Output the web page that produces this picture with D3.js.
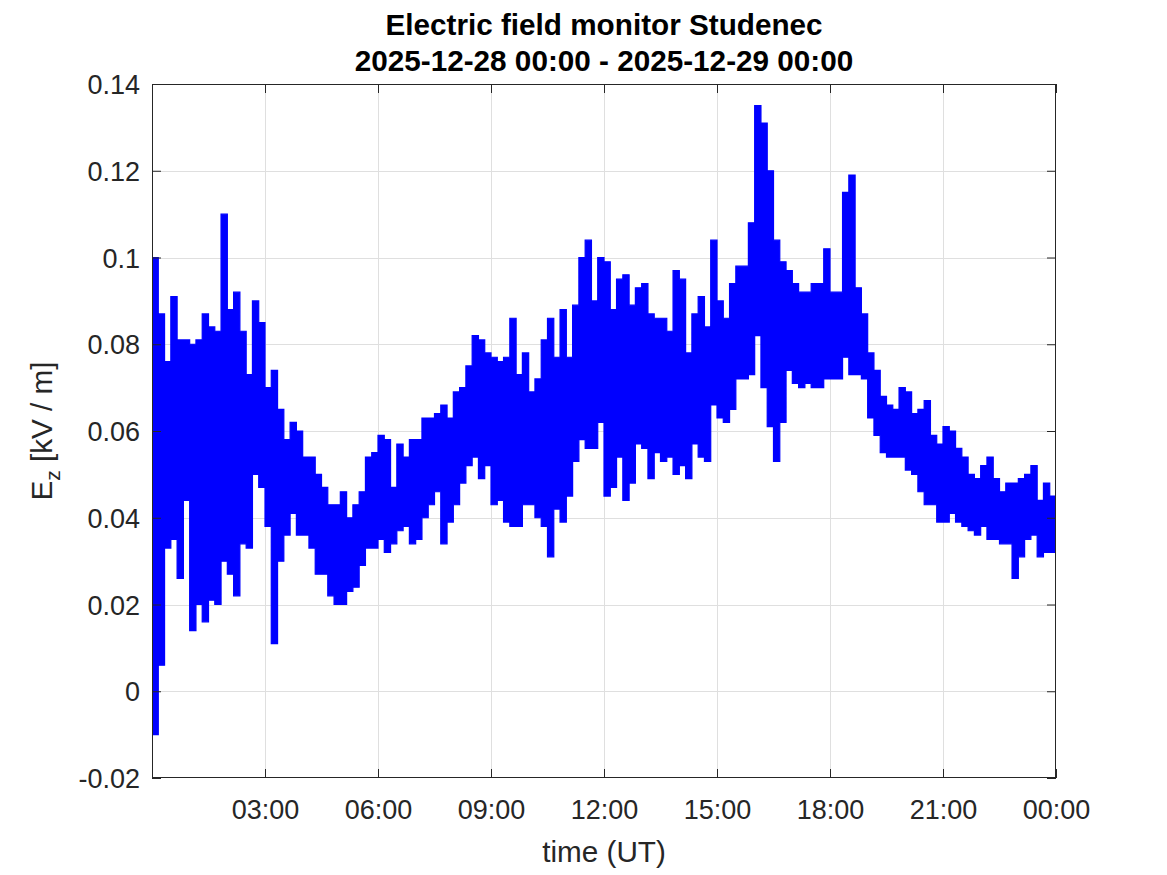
<!DOCTYPE html>
<html><head><meta charset="utf-8">
<script src="https://cdn.jsdelivr.net/npm/d3@7"></script>
<style>body{margin:0;background:#fff}</style>
</head><body>
<svg id="chart" width="1167" height="875"></svg>
<script>
// ---- data ----
const titleLines = ["Electric field monitor Studenec", "2025-12-28 00:00 - 2025-12-29 00:00"];
const xLabel = "time (UT)";
const binMinutes = 10; // each bin: lowest and highest Ez seen in that 10-minute span
const ezLow = [
 -0.010,0.006,0.033,0.035,0.026,0.044,0.014,0.020,0.016,0.021,0.020,0.030,
  0.027,0.022,0.034,0.033,0.050,0.047,0.038,0.011,0.030,0.036,0.041,0.036,
  0.036,0.033,0.027,0.027,0.022,0.020,0.020,0.023,0.024,0.029,0.033,0.033,
  0.035,0.032,0.034,0.037,0.038,0.034,0.035,0.040,0.043,0.046,0.034,0.039,
  0.043,0.048,0.052,0.054,0.049,0.052,0.043,0.044,0.039,0.038,0.038,0.043,
  0.043,0.040,0.038,0.031,0.042,0.039,0.045,0.053,0.058,0.056,0.056,0.062,
  0.045,0.047,0.054,0.044,0.048,0.057,0.056,0.049,0.055,0.053,0.054,0.050,
  0.052,0.049,0.057,0.054,0.053,0.066,0.063,0.062,0.065,0.072,0.072,0.073,
  0.082,0.070,0.061,0.053,0.062,0.074,0.071,0.070,0.071,0.070,0.070,0.072,
  0.072,0.072,0.077,0.073,0.073,0.072,0.063,0.059,0.055,0.054,0.054,0.054,
  0.051,0.050,0.046,0.043,0.043,0.039,0.039,0.041,0.039,0.038,0.037,0.036,
  0.038,0.035,0.035,0.034,0.034,0.026,0.031,0.035,0.036,0.031,0.032,0.032
];
const ezHigh = [
  0.100,0.087,0.076,0.091,0.081,0.081,0.080,0.081,0.087,0.084,0.083,0.110,
  0.088,0.092,0.083,0.073,0.090,0.085,0.070,0.074,0.065,0.058,0.062,0.060,
  0.054,0.054,0.050,0.047,0.043,0.043,0.046,0.040,0.043,0.046,0.054,0.055,
  0.059,0.058,0.047,0.057,0.054,0.058,0.058,0.063,0.063,0.064,0.066,0.063,
  0.069,0.070,0.075,0.082,0.081,0.078,0.077,0.076,0.077,0.086,0.073,0.078,
  0.069,0.072,0.081,0.086,0.077,0.088,0.077,0.089,0.100,0.104,0.090,0.100,
  0.099,0.088,0.095,0.096,0.089,0.093,0.094,0.087,0.086,0.086,0.083,0.097,
  0.095,0.078,0.087,0.091,0.084,0.104,0.090,0.086,0.094,0.098,0.098,0.108,
  0.135,0.131,0.120,0.104,0.099,0.097,0.094,0.092,0.092,0.094,0.094,0.102,
  0.092,0.092,0.115,0.119,0.093,0.087,0.078,0.074,0.068,0.066,0.065,0.070,
  0.069,0.064,0.065,0.067,0.059,0.057,0.061,0.060,0.056,0.054,0.050,0.049,
  0.052,0.054,0.049,0.046,0.048,0.048,0.049,0.050,0.052,0.044,0.048,0.045
];
const xTickHours = [3, 6, 9, 12, 15, 18, 21, 24];
const xTickLabels = ["03:00", "06:00", "09:00", "12:00", "15:00", "18:00", "21:00", "00:00"];
const yTickValues = [-0.02, 0, 0.02, 0.04, 0.06, 0.08, 0.1, 0.12, 0.14];
const yTickLabels = ["-0.02", "0", "0.02", "0.04", "0.06", "0.08", "0.1", "0.12", "0.14"];

// ---- layout ----
const W = 1167, H = 875;
const L = 152, R = 1056, T = 84, B = 778;
const axisColor = "#262626", gridColor = "#dfdfdf";
const font = "'Liberation Sans', Arial, Helvetica, sans-serif";
const tickLen = 9;

const svg = d3.select("#chart");
svg.append("rect").attr("width", W).attr("height", H).attr("fill", "#fff");

const x = d3.scaleLinear().domain([0, 24]).range([L, R]);
const y = d3.scaleLinear().domain([-0.02, 0.14]).range([B, T]);

// grid
const grid = svg.append("g");
grid.selectAll("line.gx").data(xTickHours.filter(h => h < 24)).join("line")
  .attr("x1", d => Math.round(x(d)) + 0.5).attr("x2", d => Math.round(x(d)) + 0.5)
  .attr("y1", T).attr("y2", B).attr("stroke", gridColor).attr("stroke-width", 1);
grid.selectAll("line.gy").data(yTickValues.slice(1, -1)).join("line")
  .attr("y1", d => Math.round(y(d)) + 0.5).attr("y2", d => Math.round(y(d)) + 0.5)
  .attr("x1", L).attr("x2", R).attr("stroke", gridColor).attr("stroke-width", 1);

// data: each 10-minute bin drawn as the band its trace sweeps (low..high)
const bins = ezLow.map((lo, i) => ({ t: i * binMinutes / 60, lo: lo, hi: ezHigh[i] }));
bins.push({ t: 24, lo: ezLow[ezLow.length - 1], hi: ezHigh[ezHigh.length - 1] }); // closes the last step
svg.append("clipPath").attr("id", "clip").append("rect")
  .attr("x", L).attr("y", T).attr("width", R - L).attr("height", B - T);
const plot = svg.append("g").attr("clip-path", "url(#clip)");
plot.append("path").datum(bins)
  .attr("d", d3.area().curve(d3.curveStepAfter).x(d => x(d.t)).y0(d => y(d.lo)).y1(d => y(d.hi)))
  .attr("fill", "#0000ff").attr("stroke", "#0000ff").attr("stroke-width", 1.2)
  .attr("stroke-linejoin", "miter");

// axes with inward ticks on all sides
const xAxisB = d3.axisBottom(x).tickValues(xTickHours).tickSizeInner(-tickLen).tickSizeOuter(0)
  .tickFormat((d, i) => xTickLabels[i]);
const gxb = svg.append("g").attr("transform", `translate(0,${B})`).call(xAxisB);
const xAxisT = d3.axisTop(x).tickValues(xTickHours).tickSizeInner(-tickLen).tickSizeOuter(0).tickFormat("");
const gxt = svg.append("g").attr("transform", `translate(0,${T})`).call(xAxisT);
const yAxisL = d3.axisLeft(y).tickValues(yTickValues).tickSizeInner(-tickLen).tickSizeOuter(0)
  .tickFormat((d, i) => yTickLabels[i]);
const gyl = svg.append("g").attr("transform", `translate(${L},0)`).call(yAxisL);
const yAxisR = d3.axisRight(y).tickValues(yTickValues).tickSizeInner(-tickLen).tickSizeOuter(0).tickFormat("");
const gyr = svg.append("g").attr("transform", `translate(${R},0)`).call(yAxisR);

[gxb, gxt, gyl, gyr].forEach(g => {
  g.select(".domain").remove();
  g.selectAll(".tick line").attr("stroke", axisColor).attr("stroke-width", 1);
  g.selectAll("text").attr("fill", axisColor).style("font-family", font).style("font-size", "27px");
});
gxb.selectAll("text").attr("dy", null).attr("y", 41);
gyl.selectAll("text").attr("x", -12).attr("dy", "0.36em");

// box
svg.append("rect").attr("x", L + 0.5).attr("y", T + 0.5).attr("width", R - L - 1).attr("height", B - T - 1)
  .attr("fill", "none").attr("stroke", axisColor).attr("stroke-width", 1);

// title
svg.append("g").selectAll("text").data(titleLines).join("text")
  .attr("x", (L + R) / 2).attr("y", (d, i) => 35 + i * 35.7)
  .attr("text-anchor", "middle").style("font-family", font).style("font-size", "29.7px")
  .style("font-weight", "bold").attr("fill", "#000").text(d => d);

// x label
svg.append("text").attr("x", (L + R) / 2).attr("y", 862).attr("text-anchor", "middle")
  .style("font-family", font).style("font-size", "29.7px").attr("fill", axisColor).text(xLabel);

// y label  E_z [kV / m]
const yl = svg.append("text").attr("transform", `translate(52,${(T + B) / 2}) rotate(-90)`)
  .attr("text-anchor", "middle").style("font-family", font).style("font-size", "29.7px").attr("fill", axisColor);
yl.append("tspan").text("E");
yl.append("tspan").attr("dy", 8).style("font-size", "21px").text("z");
yl.append("tspan").attr("dy", -8).text(" [kV / m]");
</script>
</body></html>
